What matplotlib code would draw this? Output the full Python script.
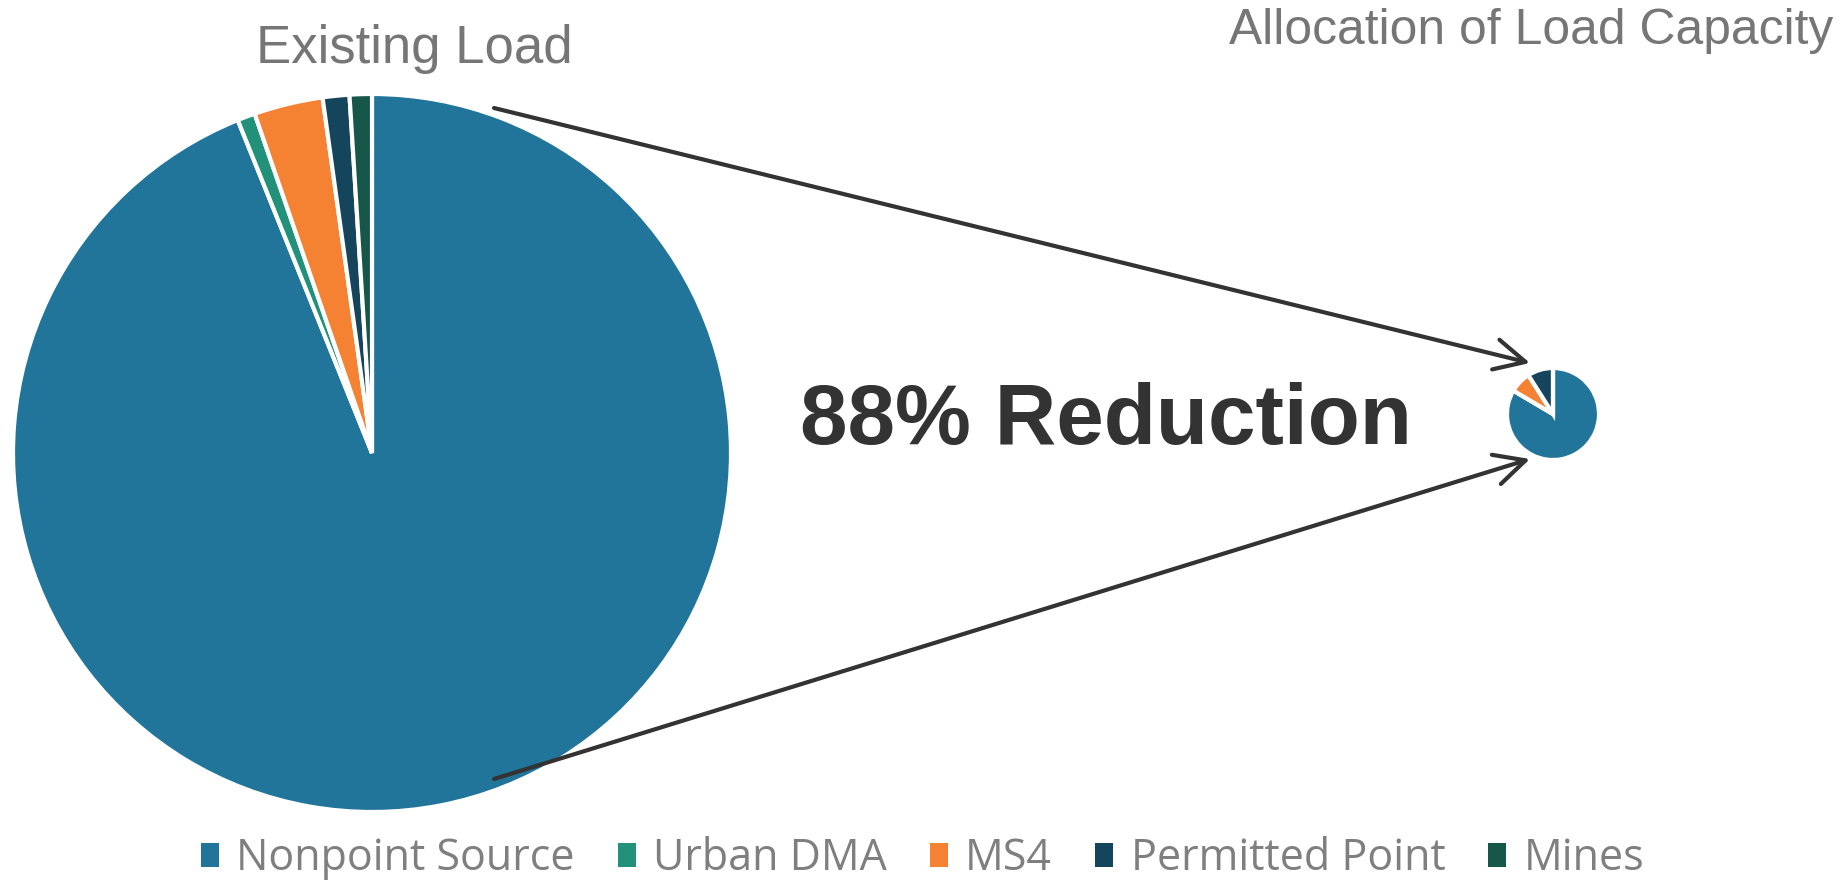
import matplotlib.pyplot as plt
from matplotlib.patches import Patch

categories = ["Nonpoint Source", "Urban DMA", "MS4", "Permitted Point", "Mines"]
existing_load = [93.9, 0.8, 3.1, 1.2, 1.0]
allocation = [83.5, 0.0, 7.5, 9.0, 0.0]
colors = ["#22759a", "#22917a", "#f58233", "#14455c", "#17574a"]

reduction_label = "88% Reduction"

fig = plt.figure(figsize=(18.45, 8.8), dpi=100)
ax = fig.add_axes([0, 0, 1, 1])

wedge_style = dict(edgecolor="white", linewidth=3)
ax.pie(existing_load, colors=colors, startangle=90, counterclock=False,
       center=(372, 427), radius=359, wedgeprops=wedge_style)
ax.pie(allocation, colors=colors, startangle=90, counterclock=False,
       center=(1553, 466), radius=46, wedgeprops=wedge_style)

ax.set_xlim(0, 1845)
ax.set_ylim(0, 880)
ax.set_aspect("equal")
ax.axis("off")

# arrows from big pie to the small one
arrow = dict(arrowstyle="->", lw=3, color="#333333", mutation_scale=55,
             shrinkA=0, shrinkB=0)
ax.annotate("", xy=(1530, 517), xytext=(494, 772), arrowprops=arrow)
ax.annotate("", xy=(1530, 421), xytext=(494, 101), arrowprops=arrow)

ax.text(1106, 458, reduction_label, ha="center", va="center", fontsize=61.5,
        fontweight="bold", color="#333333", family="Liberation Sans")

ax.text(414, 831, "Existing Load", ha="center", va="center", fontsize=38,
        color="#767676", family="Liberation Sans")
ax.text(1531, 849, "Allocation of Load Capacity", ha="center", va="center",
        fontsize=35.8, color="#767676", family="Liberation Sans")

handles = [Patch(facecolor=c, edgecolor="none") for c in colors]
fig.legend(handles, categories, loc="center", bbox_to_anchor=(0.5, 0.024),
           ncol=5, frameon=False, prop={"family": "Open Sans", "size": 31},
           labelcolor="#7f7f7f", handlelength=0.42, handleheight=0.5,
           handletextpad=0.4, columnspacing=1.0)

fig.savefig("out.png", dpi=100)
